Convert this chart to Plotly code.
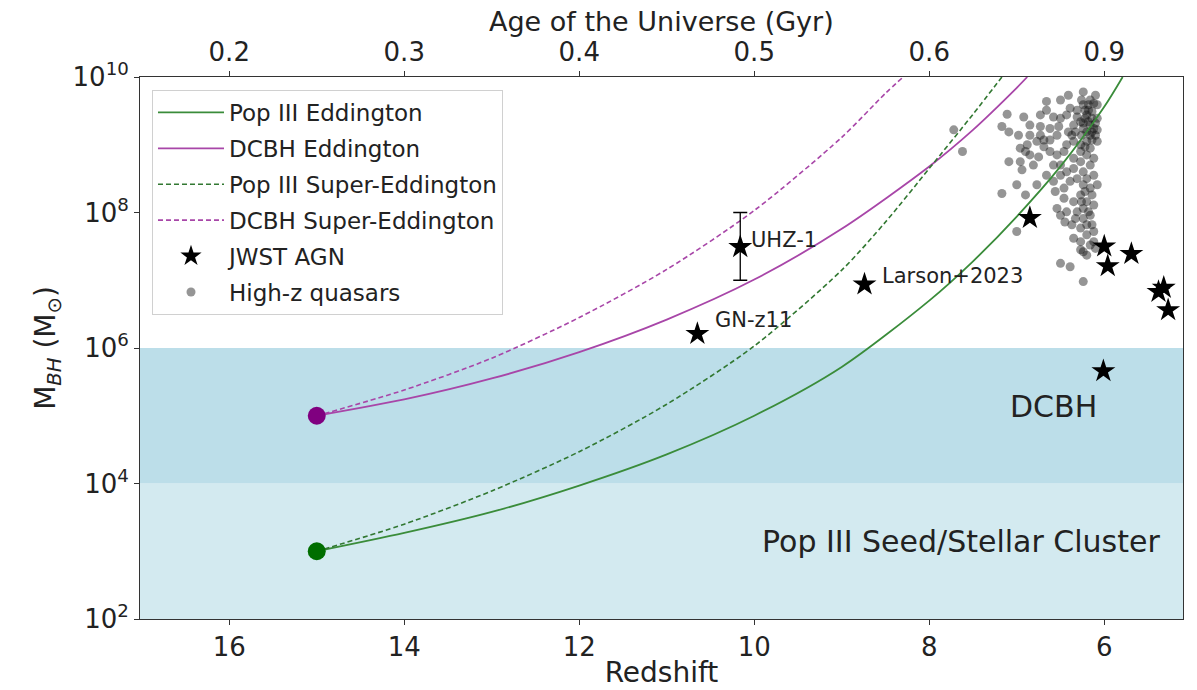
import plotly.graph_objects as go

# ---------------- data ----------------
# growth tracks (redshift, log10 M)
popIII_edd_z = [15.0, 14.0, 13.0, 12.0, 11.0, 10.0, 9.0, 8.0, 7.5, 7.0, 6.5, 6.0, 5.79]
popIII_edd_logm = [3.0, 3.27, 3.58, 3.97, 4.43, 5.00, 5.72, 6.70, 7.28, 7.94, 8.68, 9.56, 10.0]

dcbh_edd_z = [15.0, 14.0, 13.0, 12.0, 11.0, 10.0, 9.0, 8.0, 7.5, 7.0, 6.88]
dcbh_edd_logm = [5.0, 5.24, 5.55, 5.94, 6.42, 7.01, 7.76, 8.68, 9.22, 9.84, 10.0]

popIII_sup_z = [15.0, 14.0, 13.0, 12.0, 11.0, 10.0, 9.0, 8.5, 8.0, 7.5, 7.17]
popIII_sup_logm = [3.0, 3.40, 3.89, 4.47, 5.17, 6.03, 7.15, 7.86, 8.65, 9.45, 10.0]

dcbh_sup_z = [15.0, 14.0, 13.0, 12.0, 11.0, 10.0, 9.0, 8.5, 8.28]
dcbh_sup_logm = [5.0, 5.38, 5.85, 6.45, 7.16, 8.03, 9.11, 9.76, 10.02]

seed_z = [15.0, 15.0]
seed_logm = [5.0, 3.0]

# JWST AGN (stars)
jwst_z = [10.65, 8.74, 6.85, 6.00, 5.96, 5.69, 5.38, 5.32, 5.27, 6.01]
jwst_logm = [6.21, 6.94, 7.92, 7.50, 7.21, 7.39, 6.83, 6.89, 6.56, 5.66]

# UHZ-1 with mass range
uhz_z = [10.16]
uhz_m = [3.1e7]
uhz_lo = [1.0e7]
uhz_hi = [1.0e8]

# High-z quasars
qso_z = [7.72, 7.62, 7.11, 7.17, 7.09, 6.98, 6.92, 6.85, 6.96, 6.90, 6.85, 6.75, 7.09, 6.96,
         6.94, 6.81, 6.73, 6.69, 7.00, 6.77, 7.17, 6.90, 7.00, 6.50, 6.39, 6.24, 6.27, 6.20,
         6.50, 6.41, 6.66, 6.66, 6.58, 6.50, 6.43, 6.35, 6.31, 6.24, 6.20, 6.14, 6.10, 6.12,
         6.18, 6.24, 6.12, 6.16, 6.20, 6.27, 6.35, 6.43, 6.46, 6.54, 6.62, 6.58, 6.50, 6.43,
         6.50, 6.58, 6.66, 6.56, 6.46, 6.39, 6.31, 6.24, 6.16, 6.12, 6.20, 6.27, 6.35, 6.12,
         6.24, 6.16, 6.27, 6.20, 6.12, 6.24, 6.31, 6.35, 6.46, 6.43, 6.50, 6.24, 6.16, 6.20,
         6.27, 6.12, 6.20, 6.35, 6.27, 6.12, 6.08, 6.08, 6.16, 6.73, 6.77, 6.88, 6.62, 6.54,
         6.62, 6.69, 6.35, 6.54, 6.45, 6.37, 6.33, 6.14, 6.08, 6.20, 6.27, 6.33, 6.41, 6.52,
         6.24, 6.16, 6.24, 6.10, 6.18, 6.14, 6.27, 6.39, 6.73, 6.85, 6.22, 6.16, 6.10, 6.26,
         6.20, 6.14, 6.26, 6.16, 6.08, 6.22, 6.10, 6.24, 6.14, 6.22, 6.08, 6.18, 6.31, 6.37,
         6.22, 6.14, 6.18, 6.26]
qso_logm = [9.22, 8.90, 9.45, 9.27, 9.19, 9.14, 9.41, 9.29, 8.95, 8.90, 8.85, 8.82, 8.75, 8.75,
            8.63, 8.70, 9.14, 9.07, 8.41, 8.41, 8.28, 8.26, 7.72, 7.25, 7.20, 6.98, 7.45, 7.37,
            9.66, 9.73, 9.64, 9.51, 9.41, 9.39, 9.44, 9.29, 9.51, 9.59, 9.44, 9.49, 9.73, 9.61,
            9.34, 9.24, 9.24, 9.14, 9.05, 9.00, 9.05, 9.00, 8.90, 8.85, 8.90, 8.70, 8.70, 8.60,
            8.55, 8.46, 8.55, 8.31, 8.36, 8.46, 8.50, 8.60, 8.70, 8.80, 8.85, 8.75, 8.80, 8.55,
            8.41, 8.36, 8.26, 8.16, 8.11, 8.06, 8.01, 8.16, 8.21, 8.01, 7.96, 7.91, 7.96, 7.82,
            7.77, 7.72, 7.67, 7.62, 7.57, 7.57, 9.05, 9.39, 8.95, 9.27, 9.05, 9.00, 9.24, 9.14,
            9.07, 8.97, 8.65, 8.06, 7.86, 7.82, 7.91, 8.26, 8.41, 8.50, 8.90, 9.19, 9.19, 9.27,
            9.78, 7.52, 7.42, 7.47, 9.51, 9.19, 9.34, 9.54, 9.44, 9.14, 9.39, 9.29, 9.14, 9.14,
            9.19, 9.39, 9.66, 9.66, 9.59, 9.51, 9.32, 9.32, 9.07, 8.97, 9.22, 9.59, 9.41, 9.14,
            8.31, 7.82, 8.01, 8.16]

# regions
dcbh_band = [1e4, 1e6]
popIII_band = [1e2, 1e4]

# axes
x_range = [17.02, 5.10]
y_exp = [2, 4, 6, 8, 10]
z_ticks = [16, 14, 12, 10, 8, 6]
age_labels = ["0.2", "0.3", "0.4", "0.5", "0.6", "0.9"]

FONT = "DejaVu Sans"
GREEN = "rgb(58,140,58)"
GREEN_D = "rgb(50,120,50)"
PURPLE = "rgb(168,70,168)"


def tomass(lg):
    return [10 ** v for v in lg]


fig = go.Figure()

# bands as filled traces (clipped by the plot area)
fig.add_trace(go.Scatter(x=[18, 4, 4, 18], y=[popIII_band[0] / 10, popIII_band[0] / 10, popIII_band[1], popIII_band[1]],
                         fill="toself", fillcolor="rgb(211,234,240)", line=dict(width=0),
                         mode="lines", showlegend=False, hoverinfo="skip"))
fig.add_trace(go.Scatter(x=[18, 4, 4, 18], y=[dcbh_band[0], dcbh_band[0], dcbh_band[1], dcbh_band[1]],
                         fill="toself", fillcolor="rgb(188,222,233)", line=dict(width=0),
                         mode="lines", showlegend=False, hoverinfo="skip"))

# quasars
fig.add_trace(go.Scatter(x=qso_z, y=tomass(qso_logm), mode="markers", name="High-z quasars",
                         marker=dict(color="rgba(20,20,20,0.45)", size=9, line=dict(width=0)),
                         legendrank=6, legendgroup="g6"))

# growth tracks
fig.add_trace(go.Scatter(x=popIII_edd_z, y=tomass(popIII_edd_logm), mode="lines", name="Pop III Eddington",
                         line=dict(color=GREEN, width=1.8, shape="spline", smoothing=0.8),
                         legendrank=1, legendgroup="g1"))
fig.add_trace(go.Scatter(x=dcbh_edd_z, y=tomass(dcbh_edd_logm), mode="lines", name="DCBH Eddington",
                         line=dict(color=PURPLE, width=1.8, shape="spline", smoothing=0.8),
                         legendrank=2, legendgroup="g2"))
fig.add_trace(go.Scatter(x=popIII_sup_z, y=tomass(popIII_sup_logm), mode="lines", name="Pop III Super-Eddington",
                         line=dict(color=GREEN_D, width=1.6, dash="5px,3px", shape="spline", smoothing=0.8),
                         legendrank=3, legendgroup="g3"))
fig.add_trace(go.Scatter(x=dcbh_sup_z, y=tomass(dcbh_sup_logm), mode="lines", name="DCBH Super-Eddington",
                         line=dict(color=PURPLE, width=1.6, dash="5px,3px", shape="spline", smoothing=0.8),
                         legendrank=4, legendgroup="g4"))

# seed points
fig.add_trace(go.Scatter(x=seed_z, y=tomass(seed_logm), mode="markers", showlegend=False,
                         marker=dict(color=["rgb(128,0,128)", "rgb(0,110,0)"], size=18, line=dict(width=0))))

# JWST AGN
fig.add_trace(go.Scatter(x=jwst_z, y=tomass(jwst_logm), mode="markers", name="JWST AGN",
                         marker=dict(symbol="star", color="black", size=18, line=dict(width=0)),
                         legendrank=5, legendgroup="g5"))
fig.add_trace(go.Scatter(x=uhz_z, y=uhz_m, mode="markers", showlegend=False, legendgroup="g5",
                         marker=dict(symbol="star", color="black", size=18, line=dict(width=0)),
                         error_y=dict(type="data", symmetric=False,
                                      array=[uhz_hi[0] - uhz_m[0]], arrayminus=[uhz_m[0] - uhz_lo[0]],
                                      color="black", thickness=1.3, width=7)))

# invisible trace on the top axis so it is drawn
fig.add_trace(go.Scatter(x=[z_ticks[0]], y=[1e6], xaxis="x2", mode="markers",
                         marker=dict(opacity=0), showlegend=False, hoverinfo="skip"))

ann_font = dict(family=FONT, size=21, color="#222")
big_font = dict(family=FONT, size=30, color="#222")
annotations = [
    dict(x=10.06, y=7.59, text="UHZ-1", xanchor="left", yanchor="middle", font=ann_font),
    dict(x=10.47, y=6.41, text="GN-z11", xanchor="left", yanchor="middle", font=ann_font),
    dict(x=8.56, y=7.06, text="Larson+2023", xanchor="left", yanchor="middle", font=ann_font),
    dict(x=6.58, y=5.14, text="DCBH", xanchor="center", yanchor="middle", font=big_font),
    dict(x=5.34, y=3.15, text="Pop III Seed/Stellar Cluster", xanchor="right", yanchor="middle", font=big_font),
]
for a in annotations:
    a.update(xref="x", yref="y", showarrow=False)
annotations.append(dict(x=0.5, y=1.1015, xref="paper", yref="paper", showarrow=False,
                        text="Age of the Universe (Gyr)", xanchor="center", yanchor="middle",
                        font=dict(family=FONT, size=27, color="#222")))

fig.update_layout(
    width=1197, height=690,
    margin=dict(l=140, r=14, t=77, b=71, autoexpand=False),
    paper_bgcolor="white", plot_bgcolor="white",
    font=dict(family=FONT, size=26, color="#222"),
    showlegend=True,
    legend=dict(x=0.0115, y=0.976, xanchor="left", yanchor="top",
                bgcolor="rgba(255,255,255,0.85)", bordercolor="#d0d0d0", borderwidth=1,
                font=dict(family=FONT, size=23, color="#222"),
                tracegroupgap=3, itemwidth=66),
    xaxis=dict(range=x_range, tickvals=z_ticks, ticktext=[str(v) for v in z_ticks],
               showgrid=False, zeroline=False, showline=True, linecolor="#333", linewidth=1,
               mirror=True, ticks="outside", ticklen=5, tickcolor="#333", automargin=False,
               tickfont=dict(size=26),
               title=dict(text="Redshift", font=dict(size=28), standoff=1)),
    xaxis2=dict(overlaying="x", side="top", range=x_range, tickvals=z_ticks, ticktext=age_labels,
                showgrid=False, zeroline=False, showline=False, ticks="outside", ticklen=5,
                tickcolor="#333", tickfont=dict(size=26), automargin=False),
    yaxis=dict(type="log", range=[2, 10], tickvals=[10 ** e for e in y_exp],
               ticktext=["10<sup>%d</sup>" % e for e in y_exp],
               showgrid=False, zeroline=False, showline=True, linecolor="#333", linewidth=1,
               mirror=True, ticks="outside", ticklen=5, tickcolor="#333", tickfont=dict(size=26),
               automargin=False,
               title=dict(text="M<sub><i>BH</i></sub> (M<sub>⊙</sub>)", font=dict(size=28), standoff=8)),
    annotations=annotations,
)

fig.write_html("out.html")
